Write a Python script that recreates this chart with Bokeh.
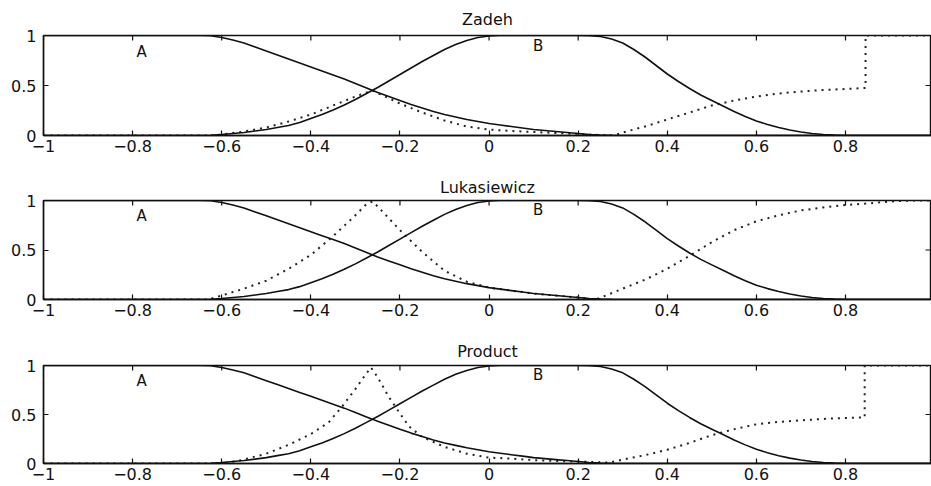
import math
from bokeh.plotting import figure
from bokeh.models import FixedTicker, LinearAxis, Range1d, Label
from bokeh.layouts import column
from bokeh.embed import file_html
from bokeh.resources import INLINE

# ---------------- data ----------------
titles = ["Zadeh", "Lukasiewicz", "Product"]

a_x = [-1.0, -0.65, -0.625, -0.6, -0.575, -0.55, -0.525, -0.5, -0.475, -0.45,
       -0.425, -0.4, -0.375, -0.35, -0.325, -0.3, -0.275, -0.25, -0.225, -0.2,
       -0.175, -0.15, -0.125, -0.1, -0.075, -0.05, -0.025, 0.0, 0.025, 0.05,
       0.075, 0.1, 0.125, 0.15, 0.175, 0.2, 0.225, 0.25, 0.275, 0.3, 1.0]
a_y = [1.0, 1.0, 0.997, 0.98, 0.955, 0.925, 0.885, 0.845, 0.805, 0.765,
       0.725, 0.685, 0.645, 0.605, 0.565, 0.52, 0.475, 0.43, 0.39, 0.35,
       0.31, 0.275, 0.24, 0.21, 0.185, 0.16, 0.14, 0.12, 0.105, 0.09,
       0.075, 0.06, 0.05, 0.04, 0.03, 0.02, 0.01, 0.004, 0.001, 0.0, 0.0]

b_x = [-1.0, -0.65, -0.625, -0.6, -0.575, -0.55, -0.525, -0.5, -0.475, -0.45,
       -0.425, -0.4, -0.375, -0.35, -0.325, -0.3, -0.275, -0.25, -0.225, -0.2,
       -0.175, -0.15, -0.125, -0.1, -0.075, -0.05, -0.025, 0.0, 0.025, 0.05,
       0.075, 0.1, 0.125, 0.15, 0.175, 0.2, 0.225, 0.25, 0.275, 0.3,
       0.325, 0.35, 0.375, 0.4, 0.425, 0.45, 0.475, 0.5, 0.525, 0.55,
       0.575, 0.6, 0.625, 0.65, 0.675, 0.7, 0.725, 0.75, 0.775, 0.8, 1.0]
b_y = [0.0, 0.0, 0.003, 0.01, 0.02, 0.03, 0.045, 0.06, 0.08, 0.10,
       0.13, 0.17, 0.21, 0.255, 0.305, 0.36, 0.42, 0.48, 0.545, 0.61,
       0.675, 0.74, 0.80, 0.86, 0.91, 0.95, 0.98, 0.995, 1.0, 1.0,
       1.0, 1.0, 1.0, 1.0, 1.0, 1.0, 0.998, 0.99, 0.965, 0.925,
       0.86, 0.785, 0.70, 0.615, 0.54, 0.47, 0.405, 0.35, 0.295, 0.24,
       0.19, 0.145, 0.11, 0.08, 0.055, 0.035, 0.02, 0.01, 0.004, 0.0, 0.0]

zadeh_x = [-1.0, -0.62, -0.6, -0.55, -0.5, -0.45, -0.4, -0.35, -0.3, -0.262,
           -0.2, -0.15, -0.1, -0.05, 0.0, 0.05, 0.1, 0.15, 0.2, 0.25,
           0.28, 0.3, 0.35, 0.4, 0.45, 0.5, 0.55, 0.6, 0.65, 0.7,
           0.75, 0.8, 0.845, 0.845, 1.0]
zadeh_y = [0, 0, 0.01, 0.04, 0.08, 0.14, 0.21, 0.30, 0.39, 0.45,
           0.32, 0.23, 0.15, 0.09, 0.06, 0.045, 0.035, 0.025, 0.015, 0.005,
           0.0, 0.03, 0.09, 0.16, 0.23, 0.30, 0.35, 0.39, 0.42, 0.44,
           0.455, 0.465, 0.475, 1.0, 1.0]

luk_x = [-1.0, -0.63, -0.6, -0.55, -0.5, -0.45, -0.4, -0.35, -0.3, -0.276,
         -0.262, -0.25, -0.2, -0.15, -0.1, -0.05, 0.0, 0.05, 0.1, 0.15,
         0.2, 0.24, 0.3, 0.35, 0.4, 0.45, 0.5, 0.55, 0.6, 0.65,
         0.7, 0.75, 0.8, 0.85, 0.9, 0.95, 1.0]
luk_y = [0, 0, 0.04, 0.11, 0.19, 0.31, 0.45, 0.64, 0.85, 0.96,
         0.99, 0.94, 0.70, 0.48, 0.29, 0.18, 0.12, 0.09, 0.06, 0.04,
         0.02, 0.0, 0.11, 0.20, 0.31, 0.44, 0.58, 0.70, 0.79, 0.85,
         0.90, 0.93, 0.955, 0.97, 0.99, 1.0, 1.0]

prod_x = [-1.0, -0.6, -0.56, -0.5, -0.45, -0.4, -0.36, -0.33, -0.3, -0.28,
          -0.265, -0.25, -0.225, -0.2, -0.18, -0.15, -0.1, -0.05, 0.0, 0.05,
          0.1, 0.15, 0.2, 0.27, 0.3, 0.35, 0.4, 0.45, 0.5, 0.55,
          0.6, 0.65, 0.7, 0.75, 0.8, 0.843, 0.843, 1.0]
prod_y = [0, 0, 0.03, 0.10, 0.19, 0.30, 0.42, 0.58, 0.76, 0.89,
          0.98, 0.88, 0.68, 0.51, 0.38, 0.27, 0.17, 0.10, 0.06, 0.05,
          0.035, 0.025, 0.02, 0.01, 0.04, 0.085, 0.14, 0.21, 0.29, 0.35,
          0.40, 0.425, 0.44, 0.455, 0.465, 0.47, 1.0, 1.0]

dotted_x = [zadeh_x, luk_x, prod_x]
dotted_y = [zadeh_y, luk_y, prod_y]

x_ticks = [-1.0, -0.8, -0.6, -0.4, -0.2, 0.0, 0.2, 0.4, 0.6, 0.8, 1.0]
x_tick_labels = ["\u22121", "\u22120.8", "\u22120.6", "\u22120.4", "\u22120.2",
                 "0", "0.2", "0.4", "0.6", "0.8", "1"]
y_ticks = [0.0, 0.5, 1.0]
y_tick_labels = ["0", "0.5", "1"]

set_names = ["A", "B"]
set_label_x = [-0.78, 0.11]
set_label_y = [0.84, 0.90]

# ---------------- styling / layout ----------------
FONT = "DejaVu Sans"
INK = "#111111"
X_END = 0.993            # the reference crops the box just before x = 1
fig_heights = [170, 164, 151]
top_borders = [35, 30, 30]
bottom_borders = [35, 35, 22]
title_standoffs = [13, 8, 10]

x_over = dict(zip(x_ticks, x_tick_labels))
y_over = dict(zip(y_ticks, y_tick_labels))


def make_axis(ticks, overrides, standoff):
    ax = LinearAxis(ticker=FixedTicker(ticks=ticks))
    ax.major_label_overrides = overrides
    ax.major_tick_in = 5
    ax.major_tick_out = 0
    ax.minor_tick_line_color = None
    ax.major_tick_line_color = INK
    ax.major_tick_line_width = 1.2
    ax.axis_line_color = INK
    ax.axis_line_width = 1.4
    ax.major_label_text_font = FONT
    ax.major_label_text_color = INK
    ax.major_label_text_font_size = "16px"
    ax.major_label_standoff = standoff
    return ax


panels = []
for i, name in enumerate(titles):
    p = figure(width=931, height=fig_heights[i], output_backend="svg",
               toolbar_location=None, x_range=Range1d(-1.0, X_END),
               y_range=Range1d(0.0, 1.0), x_axis_type=None, y_axis_type=None,
               min_border_left=43, min_border_right=0,
               min_border_top=top_borders[i], min_border_bottom=bottom_borders[i])
    p.background_fill_color = "white"
    p.border_fill_color = "white"
    p.outline_line_color = INK
    p.outline_line_width = 1.4
    p.grid.visible = False
    p.title.text = name
    p.title.align = "center"
    p.title.text_font = FONT
    p.title.text_font_size = "16px"
    p.title.text_font_style = "normal"
    p.title.text_color = INK
    p.title.standoff = title_standoffs[i]

    p.add_layout(make_axis(x_ticks, x_over, 4), "below")
    p.add_layout(make_axis(y_ticks, y_over, 7), "left")

    # inward tick marks along the top edge and the right edge of the box
    p.scatter(x_ticks, [y_ticks[-1]] * len(x_ticks), marker="dash",
              angle=math.pi / 2, size=10, line_color=INK, line_width=1.2)
    p.scatter([X_END] * len(y_ticks), y_ticks, marker="dash",
              size=12, line_color=INK, line_width=1.2)

    p.line(dotted_x[i], dotted_y[i], line_color="#222222", line_width=2.0,
           line_dash="2 5")
    p.line(a_x, a_y, line_color=INK, line_width=1.6)
    p.line(b_x, b_y, line_color=INK, line_width=1.6)

    for nm, lx, ly in zip(set_names, set_label_x, set_label_y):
        p.add_layout(Label(x=lx, y=ly, text=nm, text_font=FONT,
                           text_font_size="15px", text_color=INK,
                           text_align="center", text_baseline="middle"))
    panels.append(p)

layout = column(*panels, spacing=0)
open("out.html", "w").write(file_html(layout, INLINE))
